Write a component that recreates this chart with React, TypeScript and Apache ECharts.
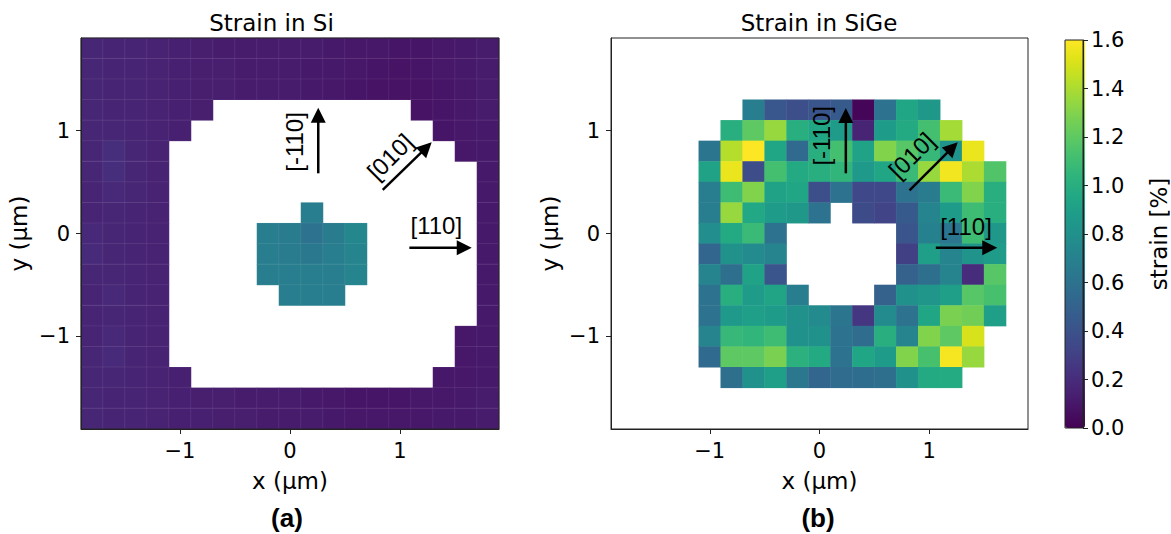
import React, { useEffect, useRef } from 'react';
import * as echarts from 'echarts';

const N = null;

// cell centres (µm)
const xCenters = [-1.8, -1.6, -1.4, -1.2, -1.0, -0.8, -0.6, -0.4, -0.2, 0, 0.2, 0.4, 0.6, 0.8, 1.0, 1.2, 1.4, 1.6, 1.8];
const yCenters = [-1.8, -1.6, -1.4, -1.2, -1.0, -0.8, -0.6, -0.4, -0.2, 0, 0.2, 0.4, 0.6, 0.8, 1.0, 1.2, 1.4, 1.6, 1.8];
const tickValues = [-1, 0, 1];
const tickLabels = ['\u22121', '0', '1'];
const cbarMin = 0;
const cbarMax = 1.6;
const cbarStep = 0.2;

// Strain in Si, rows from top (y = 1.8) to bottom (y = -1.8)
const siRows: (number | null)[][] = [
  [0.17, 0.16, 0.16, 0.15, 0.14, 0.13, 0.12, 0.12, 0.12, 0.12, 0.12, 0.11, 0.1, 0.1, 0.09, 0.09, 0.1, 0.11, 0.12],
  [0.17, 0.16, 0.16, 0.15, 0.14, 0.13, 0.13, 0.12, 0.12, 0.12, 0.11, 0.11, 0.1, 0.09, 0.08, 0.09, 0.1, 0.11, 0.12],
  [0.17, 0.16, 0.16, 0.15, 0.14, 0.13, 0.13, 0.12, 0.12, 0.12, 0.11, 0.1, 0.09, 0.08, 0.08, 0.08, 0.09, 0.1, 0.12],
  [0.17, 0.16, 0.16, 0.15, 0.14, 0.13, N, N, N, N, N, N, N, N, N, 0.08, 0.09, 0.1, 0.12],
  [0.17, 0.17, 0.16, 0.15, 0.14, N, N, N, N, N, N, N, N, N, N, N, 0.09, 0.1, 0.11],
  [0.17, 0.21, 0.17, 0.15, N, N, N, N, N, N, N, N, N, N, N, N, N, 0.1, 0.11],
  [0.17, 0.21, 0.17, 0.15, N, N, N, N, N, N, N, N, N, N, N, N, N, N, 0.11],
  [0.16, 0.18, 0.17, 0.15, N, N, N, N, N, N, N, N, N, N, N, N, N, N, 0.11],
  [0.16, 0.17, 0.16, 0.15, N, N, N, N, N, N, 0.68, N, N, N, N, N, N, N, 0.11],
  [0.18, 0.17, 0.16, 0.15, N, N, N, N, 0.68, 0.66, 0.6, 0.66, 0.74, N, N, N, N, N, 0.11],
  [0.19, 0.17, 0.16, 0.15, N, N, N, N, 0.68, 0.66, 0.64, 0.68, 0.72, N, N, N, N, N, 0.11],
  [0.17, 0.17, 0.16, 0.15, N, N, N, N, 0.68, 0.68, 0.68, 0.68, 0.72, N, N, N, N, N, 0.11],
  [0.16, 0.18, 0.16, 0.15, N, N, N, N, N, 0.68, 0.68, 0.68, N, N, N, N, N, N, 0.11],
  [0.16, 0.17, 0.16, 0.15, N, N, N, N, N, N, N, N, N, N, N, N, N, N, 0.11],
  [0.16, 0.18, 0.16, 0.15, N, N, N, N, N, N, N, N, N, N, N, N, N, 0.1, 0.11],
  [0.17, 0.19, 0.16, 0.15, N, N, N, N, N, N, N, N, N, N, N, N, N, 0.1, 0.11],
  [0.17, 0.17, 0.16, 0.15, 0.14, N, N, N, N, N, N, N, N, N, N, N, 0.1, 0.1, 0.11],
  [0.17, 0.16, 0.16, 0.15, 0.14, 0.13, 0.13, 0.12, 0.12, 0.12, 0.11, 0.1, 0.09, 0.09, 0.09, 0.1, 0.1, 0.11, 0.12],
  [0.17, 0.16, 0.16, 0.15, 0.14, 0.14, 0.13, 0.13, 0.12, 0.12, 0.12, 0.11, 0.1, 0.1, 0.1, 0.1, 0.11, 0.11, 0.12],
];

// Strain in SiGe, rows from top (y = 1.8) to bottom (y = -1.8)
const sigeRows: (number | null)[][] = [
  [N, N, N, N, N, N, N, N, N, N, N, N, N, N, N, N, N, N, N],
  [N, N, N, N, N, N, N, N, N, N, N, N, N, N, N, N, N, N, N],
  [N, N, N, N, N, N, N, N, N, N, N, N, N, N, N, N, N, N, N],
  [N, N, N, N, N, N, 0.68, 0.43, 0.38, 0.42, 0.45, 0.02, 0.6, 0.95, 0.85, N, N, N, N],
  [N, N, N, N, N, 1.0, 1.2, 1.35, 1.0, 0.95, 0.87, 0.16, 0.87, 0.97, 1.12, 1.38, N, N, N],
  [N, N, N, N, 0.62, 1.42, 1.6, 0.95, 0.55, 1.0, 1.12, 0.92, 1.3, 1.18, 1.07, 0.82, 1.55, N, N],
  [N, N, N, N, 0.92, 1.55, 0.37, 1.12, 0.97, 1.0, 1.05, 0.86, 0.95, 1.08, 1.35, 1.57, 1.4, 1.16, N],
  [N, N, N, N, 0.68, 1.1, 1.3, 0.92, 0.95, 0.38, 0.6, 0.35, 0.35, 0.6, 0.66, 1.08, 1.3, 1.0, N],
  [N, N, N, N, 0.67, 1.35, 0.96, 0.87, 0.85, 0.6, N, 0.36, 0.32, 0.45, 0.72, 0.88, 1.1, 1.0, N],
  [N, N, N, N, 0.78, 0.97, 1.08, 0.6, N, N, N, N, N, 0.42, 0.7, 0.62, 1.1, 0.85, N],
  [N, N, N, N, 0.52, 0.8, 0.76, 0.72, N, N, N, N, N, 0.3, 0.9, 0.72, 0.82, 0.88, N],
  [N, N, N, N, 0.72, 0.58, 0.92, 0.42, N, N, N, N, N, 0.5, 0.58, 0.72, 0.2, 1.18, N],
  [N, N, N, N, 0.6, 1.0, 0.87, 0.93, 0.68, N, N, N, 0.5, 0.8, 0.84, 0.9, 1.18, 1.13, N],
  [N, N, N, N, 0.6, 0.86, 0.9, 0.87, 0.8, 0.76, 0.62, 0.25, 0.76, 0.6, 0.95, 1.28, 1.25, 0.9, N],
  [N, N, N, N, 0.72, 1.07, 1.05, 1.1, 0.8, 0.8, 0.6, 0.56, 1.0, 0.72, 1.3, 1.2, 1.5, N, N],
  [N, N, N, N, 0.55, 1.2, 1.2, 1.28, 1.02, 0.97, 0.6, 0.95, 0.87, 1.3, 1.13, 1.58, 1.35, N, N],
  [N, N, N, N, N, 0.58, 0.8, 0.9, 0.63, 0.52, 0.56, 0.57, 0.58, 0.8, 0.97, 0.98, N, N, N],
  [N, N, N, N, N, N, N, N, N, N, N, N, N, N, N, N, N, N, N],
  [N, N, N, N, N, N, N, N, N, N, N, N, N, N, N, N, N, N, N],
];

// crystal direction annotations (data coordinates, µm)
const arrowLabels = ['[-110]', '[010]', '[110]'];
const arrowLabelRotation = [90, 45, 0];
const siArrowStart = [[0.257, 0.585], [0.843, 0.423], [1.085, -0.138]];
const siArrowEnd = [[0.257, 1.223], [1.288, 0.886], [1.652, -0.138]];
const siLabelPos = [[0.04, 0.89], [0.909, 0.746], [1.33, 0.073]];
const sigeArrowStart = [[0.24, 0.585], [0.82, 0.42], [1.06, -0.138]];
const sigeArrowEnd = [[0.24, 1.22], [1.26, 0.886], [1.62, -0.138]];
const sigeLabelPos = [[0.02, 0.95], [0.84, 0.76], [1.335, 0.066]];

const viridis = [
  '#440154', '#471365', '#482475', '#463480', '#414487', '#3b528b', '#355f8d',
  '#2f6c8e', '#2a788e', '#25848e', '#21918c', '#1e9c89', '#22a884', '#2fb47c',
  '#44bf70', '#5ec962', '#7ad151', '#9bd93c', '#bddf26', '#dfe318', '#fde725',
];

const toHeat = (rows: (number | null)[][]) => {
  const out: number[][] = [];
  rows.forEach((row, r) => {
    row.forEach((v, c) => {
      if (v != null) out.push([c, yCenters.length - 1 - r, v]);
    });
  });
  return out;
};

const toArrows = (s: number[][], e: number[][], l: number[][]) =>
  s.map((p, i) => [p[0], p[1], e[i][0], e[i][1], l[i][0], l[i][1], arrowLabelRotation[i], i]);

const isTick = (v: any) => tickValues.some((t) => Math.abs(Number(v) - t) < 1e-9);
const tickInterval = (_i: number, v: any) => isTick(v);
const tickFormatter = (v: any) => {
  const k = tickValues.findIndex((t) => Math.abs(Number(v) - t) < 1e-9);
  return k >= 0 ? tickLabels[k] : '';
};

const AXIS_COLOR = '#222';
const TICK_FONT = 'DejaVu Sans';

const catAxis = (gridIndex: number, data: number[], name: string, nameGap: number) => ({
  type: 'category',
  gridIndex,
  data: data.map((v) => v.toFixed(1)),
  boundaryGap: true,
  name,
  nameLocation: 'middle',
  nameGap,
  nameTextStyle: { fontSize: 23, fontFamily: TICK_FONT, color: '#000' },
  axisLine: { show: true, onZero: false, lineStyle: { color: AXIS_COLOR, width: 1 } },
  axisTick: { show: true, alignWithLabel: true, length: 5, interval: tickInterval, lineStyle: { color: AXIS_COLOR, width: 1 } },
  axisLabel: { interval: tickInterval, formatter: tickFormatter, fontSize: 21, fontFamily: TICK_FONT, color: '#000', margin: 11 },
  splitLine: { show: false },
  z: 11,
});

const hiddenValueAxis = (gridIndex: number) => ({
  type: 'value',
  gridIndex,
  min: -1.9,
  max: 1.9,
  show: false,
  axisLine: { show: false, onZero: false },
  axisTick: { show: false },
  axisLabel: { show: false },
  splitLine: { show: false },
});

const arrowRender = (params: any, api: any) => {
  const p0 = api.coord([api.value(0), api.value(1)]);
  const p1 = api.coord([api.value(2), api.value(3)]);
  const lp = api.coord([api.value(4), api.value(5)]);
  const rot = api.value(6);
  const label = arrowLabels[api.value(7)];
  const dx = p1[0] - p0[0];
  const dy = p1[1] - p0[1];
  const len = Math.hypot(dx, dy) || 1;
  const ux = dx / len;
  const uy = dy / len;
  const headLen = 15;
  const headW = 7.5;
  const bx = p1[0] - ux * headLen;
  const by = p1[1] - uy * headLen;
  const nx = -uy;
  const ny = ux;
  return {
    type: 'group',
    children: [
      { type: 'line', shape: { x1: p0[0], y1: p0[1], x2: bx + ux, y2: by + uy }, style: { stroke: '#000', lineWidth: 2.5 } },
      {
        type: 'polygon',
        shape: { points: [[p1[0], p1[1]], [bx + nx * headW, by + ny * headW], [bx - nx * headW, by - ny * headW]] },
        style: { fill: '#000' },
      },
      {
        type: 'text',
        x: lp[0],
        y: lp[1],
        rotation: (rot * Math.PI) / 180,
        style: {
          text: label,
          fontSize: 24,
          fontFamily: 'Liberation Sans',
          fill: '#000',
          align: 'center',
          verticalAlign: 'middle',
          textAlign: 'center',
          textVerticalAlign: 'middle',
        },
      },
    ],
  };
};

const textEl = (text: string, x: number, y: number, font: string) => ({
  type: 'text',
  x,
  y,
  style: { text, font, fill: '#000', textAlign: 'center', textVerticalAlign: 'middle', align: 'center', verticalAlign: 'middle' },
});

export default function App() {
  const ref = useRef<HTMLDivElement>(null);
  useEffect(() => {
    if (!ref.current) return;
    const chart = echarts.init(ref.current, null, { renderer: 'svg' });
    const option: any = {
      animation: false,
      backgroundColor: '#fff',
      grid: [
        { left: 81, top: 38, width: 418, height: 391, show: true, z: 10, borderColor: AXIS_COLOR, borderWidth: 1, backgroundColor: 'transparent' },
        { left: 611, top: 38, width: 417, height: 391, show: true, z: 10, borderColor: AXIS_COLOR, borderWidth: 1, backgroundColor: 'transparent' },
        { left: 1065, top: 40, width: 20, height: 388, show: true, z: 10, borderColor: AXIS_COLOR, borderWidth: 1, backgroundColor: 'transparent' },
      ],
      xAxis: [
        catAxis(0, xCenters, 'x (\u00b5m)', 40),
        catAxis(1, xCenters, 'x (\u00b5m)', 40),
        hiddenValueAxis(0),
        hiddenValueAxis(1),
        { type: 'value', gridIndex: 2, show: false, min: 0, max: 1 },
      ],
      yAxis: [
        catAxis(0, yCenters, 'y (\u00b5m)', 51),
        catAxis(1, yCenters, 'y (\u00b5m)', 50),
        hiddenValueAxis(0),
        hiddenValueAxis(1),
        {
          type: 'value',
          gridIndex: 2,
          position: 'right',
          min: cbarMin,
          max: cbarMax,
          interval: cbarStep,
          name: 'strain [%]',
          nameLocation: 'middle',
          nameGap: 64,
          nameTextStyle: { fontSize: 23, fontFamily: TICK_FONT, color: '#000' },
          axisLine: { show: true, onZero: false, lineStyle: { color: AXIS_COLOR, width: 1 } },
          axisTick: { show: true, length: 5, lineStyle: { color: AXIS_COLOR, width: 1 } },
          axisLabel: { formatter: (v: number) => v.toFixed(1), fontSize: 21, fontFamily: TICK_FONT, color: '#000', margin: 8 },
          splitLine: { show: false },
          z: 11,
        },
      ],
      visualMap: {
        type: 'continuous',
        min: cbarMin,
        max: cbarMax,
        seriesIndex: [0, 1],
        dimension: 2,
        inRange: { color: viridis },
        orient: 'vertical',
        left: 1065,
        top: 40,
        itemWidth: 20,
        itemHeight: 388,
        padding: 0,
        calculable: false,
        hoverLink: false,
        show: true,
      },
      series: [
        {
          type: 'heatmap',
          xAxisIndex: 0,
          yAxisIndex: 0,
          data: toHeat(siRows),
          itemStyle: { borderColor: 'rgba(255,255,255,0.12)', borderWidth: 0.6 },
          emphasis: { disabled: true },
        },
        {
          type: 'heatmap',
          xAxisIndex: 1,
          yAxisIndex: 1,
          data: toHeat(sigeRows),
          itemStyle: { borderColor: 'rgba(255,255,255,0.04)', borderWidth: 0.5 },
          emphasis: { disabled: true },
        },
        {
          type: 'custom',
          xAxisIndex: 2,
          yAxisIndex: 2,
          data: toArrows(siArrowStart, siArrowEnd, siLabelPos),
          renderItem: arrowRender,
          silent: true,
          clip: false,
          z: 20,
        },
        {
          type: 'custom',
          xAxisIndex: 3,
          yAxisIndex: 3,
          data: toArrows(sigeArrowStart, sigeArrowEnd, sigeLabelPos),
          renderItem: arrowRender,
          silent: true,
          clip: false,
          z: 20,
        },
      ],
      graphic: [
        textEl('Strain in Si', 271.5, 23, '23px "DejaVu Sans"'),
        textEl('Strain in SiGe', 819, 23, '23px "DejaVu Sans"'),
        textEl('(a)', 287, 518, 'bold 26px "Liberation Sans"'),
        textEl('(b)', 818, 518, 'bold 26px "Liberation Sans"'),
      ],
    };
    chart.setOption(option);
    return () => chart.dispose();
  }, []);
  return <div ref={ref} style={{ position: 'absolute', left: 0, top: 0, width: 1171, height: 534 }} />;
}
